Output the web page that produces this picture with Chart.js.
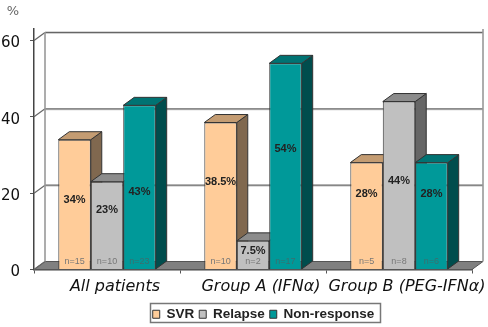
<!DOCTYPE html>
<html>
<head>
<meta charset="utf-8">
<style>
    html, body { margin: 0; padding: 0; background: #fff; }
    canvas { display: block; }
</style>
<script src="https://cdn.jsdelivr.net/npm/chart.js@4"></script>
</head>
<body>
<canvas id="graphique" width="488" height="327"></canvas>
<script>
const categories = ["All patients", "Group A (IFNα)", "Group B (PEG-IFNα)"];
const svr = [34, 38.5, 28];
const relapse = [23, 7.5, 44];
const nonResponse = [43, 54, 28];
const yTicks = [0, 20, 40, 60];

const svrPct = ["34%", "38.5%", "28%"];
const relapsePct = ["23%", "7.5%", "44%"];
const nonResponsePct = ["43%", "54%", "28%"];
const svrN = ["n=15", "n=10", "n=5"];
const relapseN = ["n=10", "n=2", "n=8"];
const nonResponseN = ["n=23", "n=17", "n=6"];

// hauteur des etiquettes %, en unites de l'axe y
const svrPctAt = [18.3, 22.8, 19.9];
const relapsePctAt = [15.7, 4.9, 23.3];
const nonResponsePctAt = [20.4, 31.7, 19.9];

const DX = 11;
const DY = 8;

function poly(ctx, pts, fill, stroke, lw) {
    ctx.beginPath();
    ctx.moveTo(pts[0][0], pts[0][1]);
    for (let i = 1; i < pts.length; i++) {
        ctx.lineTo(pts[i][0], pts[i][1]);
    }
    ctx.closePath();
    if (fill) {
        ctx.fillStyle = fill;
        ctx.fill();
    }
    if (stroke) {
        ctx.strokeStyle = stroke;
        ctx.lineWidth = lw || 1;
        ctx.stroke();
    }
}

function line(ctx, x1, y1, x2, y2, color, lw) {
    ctx.beginPath();
    ctx.moveTo(x1, y1);
    ctx.lineTo(x2, y2);
    ctx.strokeStyle = color;
    ctx.lineWidth = lw;
    ctx.stroke();
}

const decor3d = {
    id: "decor3d",
    afterLayout(chart) {
        // la legende n'est pas centree sur le canvas
        chart.legend.left += 27.5;
        chart.legend.right += 27.5;
        chart.legend.top += 4;
        chart.legend.bottom += 4;
    },
    beforeDatasetsDraw(chart) {
        const ctx = chart.ctx;
        const a = chart.chartArea;
        const y = chart.scales.y;
        ctx.save();
        // sol
        poly(ctx, [[a.left, a.bottom], [a.left + DX, a.bottom - DY], [a.right + DX, a.bottom - DY], [a.right, a.bottom]], "#808080", "#555", 1);
        // lignes du mur du fond
        for (const t of yTicks) {
            const py = y.getPixelForValue(t);
            if (t > 0) {
                line(ctx, a.left + DX, py - DY + 1, a.right + DX, py - DY + 1, "#ccc", 1);
                line(ctx, a.left + DX, py - DY, a.right + DX, py - DY, "#666", 1.2);
            }
            line(ctx, a.left, py, a.left + DX, py - DY, "#666", 1.2);
        }
        line(ctx, a.left + DX, a.top + 3, a.left + DX, a.bottom - DY, "#999", 1.6);
        line(ctx, a.right + DX, a.top, a.right + DX, a.bottom - DY, "#999", 1.6);

        // de gauche a droite, pour que chaque barre recouvre la face de la precedente
        chart.data.datasets.forEach((ds, i) => {
            const meta = chart.getDatasetMeta(i);
            for (const bar of meta.data) {
                const p = bar.getProps(["x", "y", "base", "width"], true);
                const l = p.x - p.width / 2;
                const r = p.x + p.width / 2;
                poly(ctx, [[r, p.y], [r + DX, p.y - DY], [r + DX, p.base - DY], [r, p.base]], ds.sideColor, "#333", 1);
                poly(ctx, [[l, p.y], [l + DX, p.y - DY], [r + DX, p.y - DY], [r, p.y]], ds.topColor, "#333", 1);
            }
            meta.controller.draw();
        });
        ctx.restore();
    },
    beforeDatasetDraw() {
        // deja dessine dans beforeDatasetsDraw
        return false;
    },
    afterDatasetsDraw(chart) {
        const ctx = chart.ctx;
        const y = chart.scales.y;
        ctx.save();
        ctx.textAlign = "center";
        ctx.textBaseline = "middle";
        chart.data.datasets.forEach((ds, i) => {
            chart.getDatasetMeta(i).data.forEach((bar, j) => {
                ctx.font = "bold 11px 'Liberation Sans'";
                ctx.fillStyle = "#222";
                ctx.fillText(ds.pct[j], bar.x, y.getPixelForValue(ds.pctAt[j]));
                ctx.font = "9px 'Liberation Sans'";
                ctx.fillStyle = ds.nColor;
                ctx.fillText(ds.n[j], bar.x, y.getPixelForValue(2.2));
            });
        });
        ctx.restore();
    },
    afterDraw(chart) {
        const ctx = chart.ctx;
        ctx.save();
        ctx.font = "13px 'DejaVu Sans'";
        ctx.fillStyle = "#666";
        ctx.textAlign = "center";
        ctx.fillText("%", 13, 12);
        ctx.strokeStyle = "#777";
        ctx.lineWidth = 1.5;
        ctx.strokeRect(150.5, 303.5, 230, 19);
        ctx.restore();
    }
};

const config = {
    type: "bar",
    data: {
        labels: categories,
        datasets: [
            { label: "SVR", data: svr, backgroundColor: "#FFCC99", sideColor: "#80684F", topColor: "#C49C72", borderColor: "#333", borderWidth: 1, pct: svrPct, pctAt: svrPctAt, n: svrN, nColor: "#777" },
            { label: "Relapse", data: relapse, backgroundColor: "#C0C0C0", sideColor: "#666666", topColor: "#8C8C8C", borderColor: "#333", borderWidth: 1, pct: relapsePct, pctAt: relapsePctAt, n: relapseN, nColor: "#777" },
            { label: "Non-response", data: nonResponse, backgroundColor: "#009999", sideColor: "#004D4D", topColor: "#007373", borderColor: "#333", borderWidth: 1, pct: nonResponsePct, pctAt: nonResponsePctAt, n: nonResponseN, nColor: "#3C6E6E" }
        ]
    },
    options: {
        responsive: false,
        animation: false,
        layout: { padding: { top: 29, right: 16, left: 0, bottom: 0 } },
        datasets: { bar: { categoryPercentage: 0.667, barPercentage: 1 } },
        plugins: {
            tooltip: { enabled: false },
            legend: {
                position: "bottom",
                labels: {
                    boxWidth: 7,
                    boxHeight: 8,
                    padding: 5,
                    color: "#222",
                    font: { family: "'Liberation Sans'", weight: "bold", size: 13.5 }
                }
            }
        },
        scales: {
            x: {
                afterFit(scale) { scale.height = 29; },
                grid: { drawOnChartArea: false, drawTicks: true, tickLength: 4, color: "#555" },
                border: { display: true, color: "#444", width: 1.5 },
                ticks: {
                    labelOffset: 8,
                    padding: 4,
                    maxRotation: 0,
                    autoSkip: false,
                    color: "#111",
                    font: { family: "'DejaVu Sans'", style: "italic", size: 16 }
                }
            },
            y: {
                min: 0,
                max: 63,
                afterFit(scale) { scale.width = 34; },
                grid: { drawOnChartArea: false, drawTicks: true, tickLength: 4, color: "#555" },
                border: { display: true, color: "#444", width: 1.5 },
                ticks: {
                    stepSize: 20,
                    includeBounds: false,
                    labelOffset: 3,
                    padding: 10,
                    color: "#111",
                    font: { family: "'DejaVu Sans'", size: 15 }
                }
            }
        }
    },
    plugins: [decor3d]
};

const graphique = new Chart(document.querySelector("#graphique"), config);
</script>
</body>
</html>
